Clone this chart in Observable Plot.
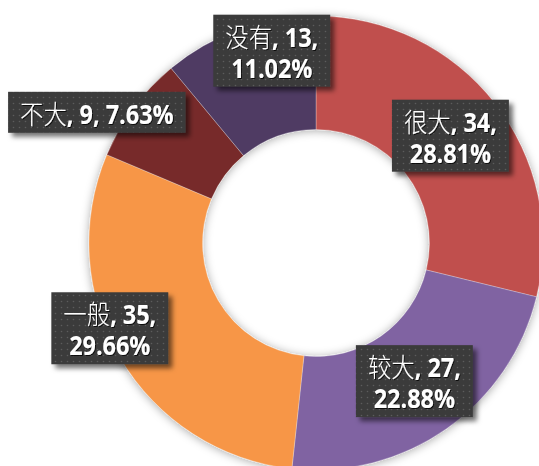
<!DOCTYPE html>
<html lang="zh">
<head>
<meta charset="utf-8">
<script src="https://cdn.jsdelivr.net/npm/d3@7"></script>
<script src="https://cdn.jsdelivr.net/npm/@observablehq/plot@0.6"></script>
<style>
html,body{margin:0;padding:0;background:#fff;overflow:hidden}
#chart svg{display:block}
</style>
</head>
<body>
<div id="chart"></div>
<script>
// ---- data ----
const categories = ["很大", "较大", "一般", "不大", "没有"];
const counts = [34, 27, 35, 9, 13];
const percentLabels = ["28.81%", "22.88%", "29.66%", "7.63%", "11.02%"];

// ---- style / layout ----
const sliceColors = ["#C0504D", "#8064A2", "#F79646", "#772C2A", "#4F3B64"];
const labelShift = [[0, -1], [0, 0], [-60, 0], [-83, -28], [13, -31]]; // px offset from slice centroid
const labelWrap = [true, true, true, false, true];

const W = 539, H = 466;
const cx = 316, cy = 243, R = 227, innerRatio = 0.5;
const textScaleX = 0.9;
const ns = "http://www.w3.org/2000/svg";

const table = categories.map((category, i) => ({
  category, count: counts[i], pct: percentLabels[i],
  color: sliceColors[i], wrap: labelWrap[i], shift: labelShift[i]
}));
const slices = d3.pie().sort(null).value(d => d.count)(table);
const unitArc = d3.arc().innerRadius(innerRatio).outerRadius(1);
const labels = slices.map(s => {
  const [ux, uy] = unitArc.centroid(s);
  const d = s.data;
  return {
    x: ux + d.shift[0] / R,
    y: -uy - d.shift[1] / R,
    text: d.wrap ? `${d.category}, ${d.count},\n${d.pct}` : `${d.category}, ${d.count}, ${d.pct}`
  };
});

function donut(index, scales) {
  const x0 = scales.x(0), y0 = scales.y(0), rOut = scales.x(1) - x0;
  const g = d3.create("svg:g");
  const defs = g.append("defs");
  const f1 = defs.append("filter").attr("id", "donutShadow")
    .attr("x", "-20%").attr("y", "-20%").attr("width", "140%").attr("height", "140%");
  f1.append("feDropShadow").attr("dx", 0).attr("dy", 1).attr("stdDeviation", 5)
    .attr("flood-color", "#000").attr("flood-opacity", 0.35);
  const f2 = defs.append("filter").attr("id", "boxShadow")
    .attr("x", "-20%").attr("y", "-30%").attr("width", "150%").attr("height", "170%");
  f2.append("feDropShadow").attr("dx", 4).attr("dy", 4).attr("stdDeviation", 2.5)
    .attr("flood-color", "#000").attr("flood-opacity", 0.55);
  const f3 = defs.append("filter").attr("id", "textShadow")
    .attr("x", "-10%").attr("y", "-20%").attr("width", "130%").attr("height", "150%");
  f3.append("feDropShadow").attr("dx", 1).attr("dy", 1).attr("stdDeviation", 0.7)
    .attr("flood-color", "#000").attr("flood-opacity", 0.8);
  const pat = defs.append("pattern").attr("id", "dots")
    .attr("patternUnits", "userSpaceOnUse").attr("width", 6).attr("height", 6);
  pat.append("rect").attr("width", 6).attr("height", 6).attr("fill", "#3b3b3b");
  pat.append("circle").attr("cx", 1.5).attr("cy", 1.5).attr("r", 0.8).attr("fill", "#5c5c5c");

  const arc = d3.arc().innerRadius(rOut * innerRatio).outerRadius(rOut);
  g.append("g")
    .attr("transform", `translate(${x0},${y0})`)
    .attr("filter", "url(#donutShadow)")
    .selectAll("path").data(slices).join("path")
    .attr("d", arc)
    .attr("fill", d => d.data.color)
    .attr("stroke", "#ffffff").attr("stroke-opacity", 0.45).attr("stroke-width", 0.6);
  return g.node();
}

const chart = Plot.plot({
  width: W, height: H, margin: 0,
  x: {domain: [-cx / R, (W - cx) / R], range: [0, W], axis: null},
  y: {domain: [-(H - cy) / R, cy / R], range: [H, 0], axis: null},
  marks: [
    donut,
    Plot.text(labels, {
      x: "x", y: "y", text: "text",
      fill: "white", fontSize: 26, fontWeight: "bold", lineHeight: 1.19,
      fontFamily: "'Open Sans','Noto Sans CJK SC',sans-serif"
    })
  ]
});
document.getElementById("chart").append(chart);

const svgBox = chart.getBoundingClientRect();
d3.select(chart).selectAll('g[aria-label="text"] text').each(function () {
  const t = this;
  const nLines = t.querySelectorAll(":scope > tspan").length || 1;
  const first = t.querySelector("tspan") || t;
  const m = first.textContent.match(/^([\u4e00-\u9fff]+)(.*)$/);
  if (m) {
    first.textContent = "";
    const a = document.createElementNS(ns, "tspan");
    a.setAttribute("font-weight", "300");
    a.setAttribute("font-family", "'Noto Sans CJK SC',sans-serif");
    a.textContent = m[1];
    const b = document.createElementNS(ns, "tspan");
    b.textContent = m[2];
    first.append(a, b);
  }
  const tr = t.getAttribute("transform") || "";
  t.setAttribute("transform", `${tr} scale(${textScaleX},1)`);
  const cb = t.getBoundingClientRect();
  const bx = cb.left - svgBox.left, by = cb.top - svgBox.top;
  const w = cb.width + 24, h = nLines * 31 + 10;
  const rect = document.createElementNS(ns, "rect");
  rect.setAttribute("x", bx + cb.width / 2 - w / 2);
  rect.setAttribute("y", by + cb.height / 2 - h / 2);
  rect.setAttribute("width", w);
  rect.setAttribute("height", h);
  rect.setAttribute("fill", "url(#dots)");
  rect.setAttribute("filter", "url(#boxShadow)");
  const gtr = t.parentNode.getAttribute("transform");
  if (gtr) {
    const mt = /translate\(([-\d.]+)[ ,]*([-\d.]+)?\)/.exec(gtr);
    if (mt) rect.setAttribute("transform", `translate(${-mt[1]},${-(mt[2] || 0)})`);
  }
  t.parentNode.insertBefore(rect, t);
  t.setAttribute("filter", "url(#textShadow)");
});
</script>
</body>
</html>
